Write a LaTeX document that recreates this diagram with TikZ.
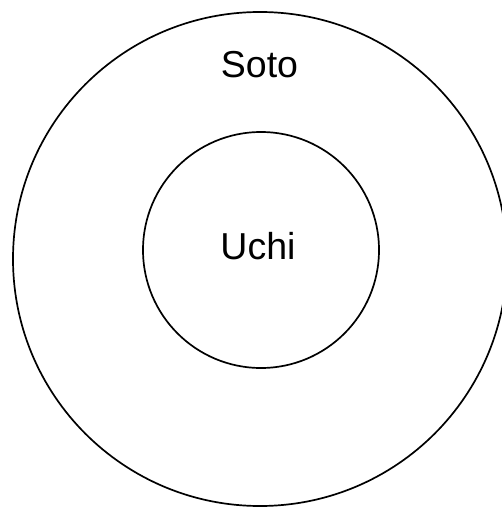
\documentclass[tikz,border=0pt]{standalone}
\usepackage{fontspec}
\setmainfont{Liberation Sans}
\usetikzlibrary{positioning}

\begin{document}
\begin{tikzpicture}[
    x=1pt, y=-1pt,
    ring/.style={draw, circle, line width=1.7pt, inner sep=0pt},
    lbl/.style={font=\fontsize{37.5}{40}\selectfont, inner sep=0pt}
  ]
  \useasboundingbox (0,0) rectangle (501,508);

  \node[ring, minimum size=494pt] (soto) at (260, 259) {};
  \node[ring, minimum size=236pt] (uchi) at (261, 250) {};

  \node[lbl] (sotoLabel) at (259.5, 65) {Soto};
  \node[lbl] (uchiLabel) at (258, 246) {Uchi};
\end{tikzpicture}
\end{document}
